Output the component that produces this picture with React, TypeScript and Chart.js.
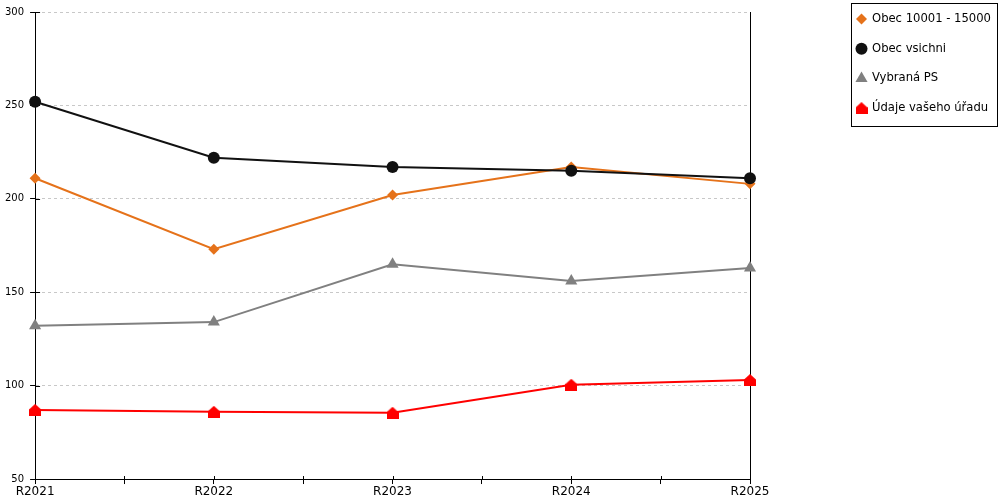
import React, { useEffect, useRef } from "react";
import { Chart, registerables } from "chart.js";
import { drawPoint } from "chart.js/helpers";

Chart.register(...registerables);

const years = ["R2021", "R2022", "R2023", "R2024", "R2025"];
const obec10001 = [211, 173, 202, 217, 208];
const obecVsichni = [252, 222, 217, 215, 211];
const vybranaPS = [132, 134, 165, 156, 163];
const udajeUradu = [87, 86, 85.5, 100.5, 103];

const FONT = '"DejaVu Sans", sans-serif';

// small "house" marker (square with a roof) used for the office series
function makeHouse(color: string) {
  const c = document.createElement("canvas");
  c.width = 12;
  c.height = 12;
  const g = c.getContext("2d")!;
  g.fillStyle = color;
  g.beginPath();
  g.moveTo(6, 0);
  g.lineTo(12, 5.5);
  g.lineTo(12, 12);
  g.lineTo(0, 12);
  g.lineTo(0, 5.5);
  g.closePath();
  g.fill();
  return c;
}

// legend in a framed box on the right
const boxLegend = {
  id: "boxLegend",
  afterDraw(chart: any) {
    const ctx = chart.ctx;
    ctx.save();
    ctx.strokeStyle = "#000";
    ctx.lineWidth = 1;
    ctx.strokeRect(851.5, 3.5, 146, 123);
    chart.data.datasets.forEach((ds: any, i: number) => {
      const y = 19 + i * 29.7;
      ctx.fillStyle = ds.pointBackgroundColor;
      ctx.strokeStyle = ds.pointBackgroundColor;
      drawPoint(ctx, { pointStyle: ds.pointStyle, radius: ds.pointRadius, rotation: 0, borderWidth: 0 }, 861.5, y);
      ctx.fillStyle = "#000";
      ctx.font = "11.6px " + FONT;
      ctx.textBaseline = "middle";
      ctx.textAlign = "left";
      ctx.fillText(ds.label, 872, y);
    });
    ctx.restore();
  },
};

// tick marks that also reach a few pixels inside the plot
const innerTicks = {
  id: "innerTicks",
  beforeDatasetsDraw(chart: any) {
    const { ctx, scales } = chart;
    const x = scales.x;
    const y = scales.y;
    ctx.save();
    ctx.strokeStyle = "#000";
    ctx.lineWidth = 1;
    ctx.beginPath();
    y.ticks.forEach((t: any) => {
      const py = Math.round(y.getPixelForValue(t.value)) + 0.5;
      ctx.moveTo(y.right, py);
      ctx.lineTo(y.right + 5, py);
    });
    x.ticks.forEach((t: any) => {
      const px = Math.round(x.getPixelForValue(t.value)) + 0.5;
      ctx.moveTo(px, x.top);
      ctx.lineTo(px, x.top - 3);
    });
    ctx.stroke();
    ctx.restore();
  },
};

const line = (label: string, data: number[], color: string, pointStyle: any, radius: number, order: number) => ({
  label,
  data: data.map((v, i) => ({ x: i, y: v })),
  borderColor: color,
  backgroundColor: color,
  pointBackgroundColor: color,
  pointBorderColor: color,
  pointBorderWidth: 0,
  pointStyle,
  pointRadius: radius,
  borderWidth: 2,
  tension: 0,
  clip: false,
  order,
});

const App: React.FC = () => {
  const chartRef = useRef<HTMLCanvasElement>(null);

  useEffect(() => {
    document.body.style.margin = "0";
    if (!chartRef.current) return;
    const ctx = chartRef.current.getContext("2d");
    if (!ctx) return;

    const chart = new Chart(ctx, {
      type: "line",
      data: {
        datasets: [
          line("Obec 10001 - 15000", obec10001, "#e5721a", "rectRot", 5.5, 1),
          line("Obec vsichni", obecVsichni, "#111111", "circle", 6, 0),
          line("Vybraná PS", vybranaPS, "#808080", "triangle", 7, 2),
          line("Údaje vašeho úřadu", udajeUradu, "#ff0000", makeHouse("#ff0000"), 6, 3),
        ] as any,
      },
      options: {
        animation: false,
        responsive: false,
        layout: { padding: { top: 10, right: 250, left: -1, bottom: 0 } },
        plugins: {
          legend: { display: false },
          tooltip: { enabled: false },
        },
        scales: {
          x: {
            type: "linear",
            min: 0,
            max: years.length - 1,
            ticks: {
              stepSize: 0.5,
              autoSkip: false,
              maxRotation: 0,
              padding: 3,
              color: "#000",
              font: { family: FONT, size: 12, lineHeight: 0.83 },
              callback: (v: any) => (Number.isInteger(v) ? years[v] : ""),
            },
            grid: { drawOnChartArea: false, drawTicks: true, tickLength: 5, tickColor: "#000" },
            border: { color: "#000", width: 1 },
          },
          y: {
            min: 50,
            max: 300,
            ticks: {
              stepSize: 50,
              padding: 6,
              color: "#000",
              font: { family: FONT, size: 10 },
            },
            grid: {
              color: (c: any) => (c.tick && c.tick.value === 50 ? "rgba(0,0,0,0)" : "#c8c8c8"),
              tickColor: "#000",
              tickLength: 5,
              tickBorderDash: [],
            },
            border: { color: "#000", width: 1, dash: [3, 3] },
          },
          y2: {
            position: "right",
            min: 50,
            max: 300,
            ticks: { display: false },
            grid: { drawOnChartArea: false, drawTicks: false },
            border: { color: "#000", width: 1 },
            afterFit: (s: any) => {
              s.width = 0;
            },
          },
        },
      } as any,
      plugins: [innerTicks, boxLegend],
    });

    return () => chart.destroy();
  }, []);

  return (
    <div style={{ width: 1000, height: 500 }}>
      <canvas ref={chartRef} width={1000} height={500}></canvas>
    </div>
  );
};

export default App;
